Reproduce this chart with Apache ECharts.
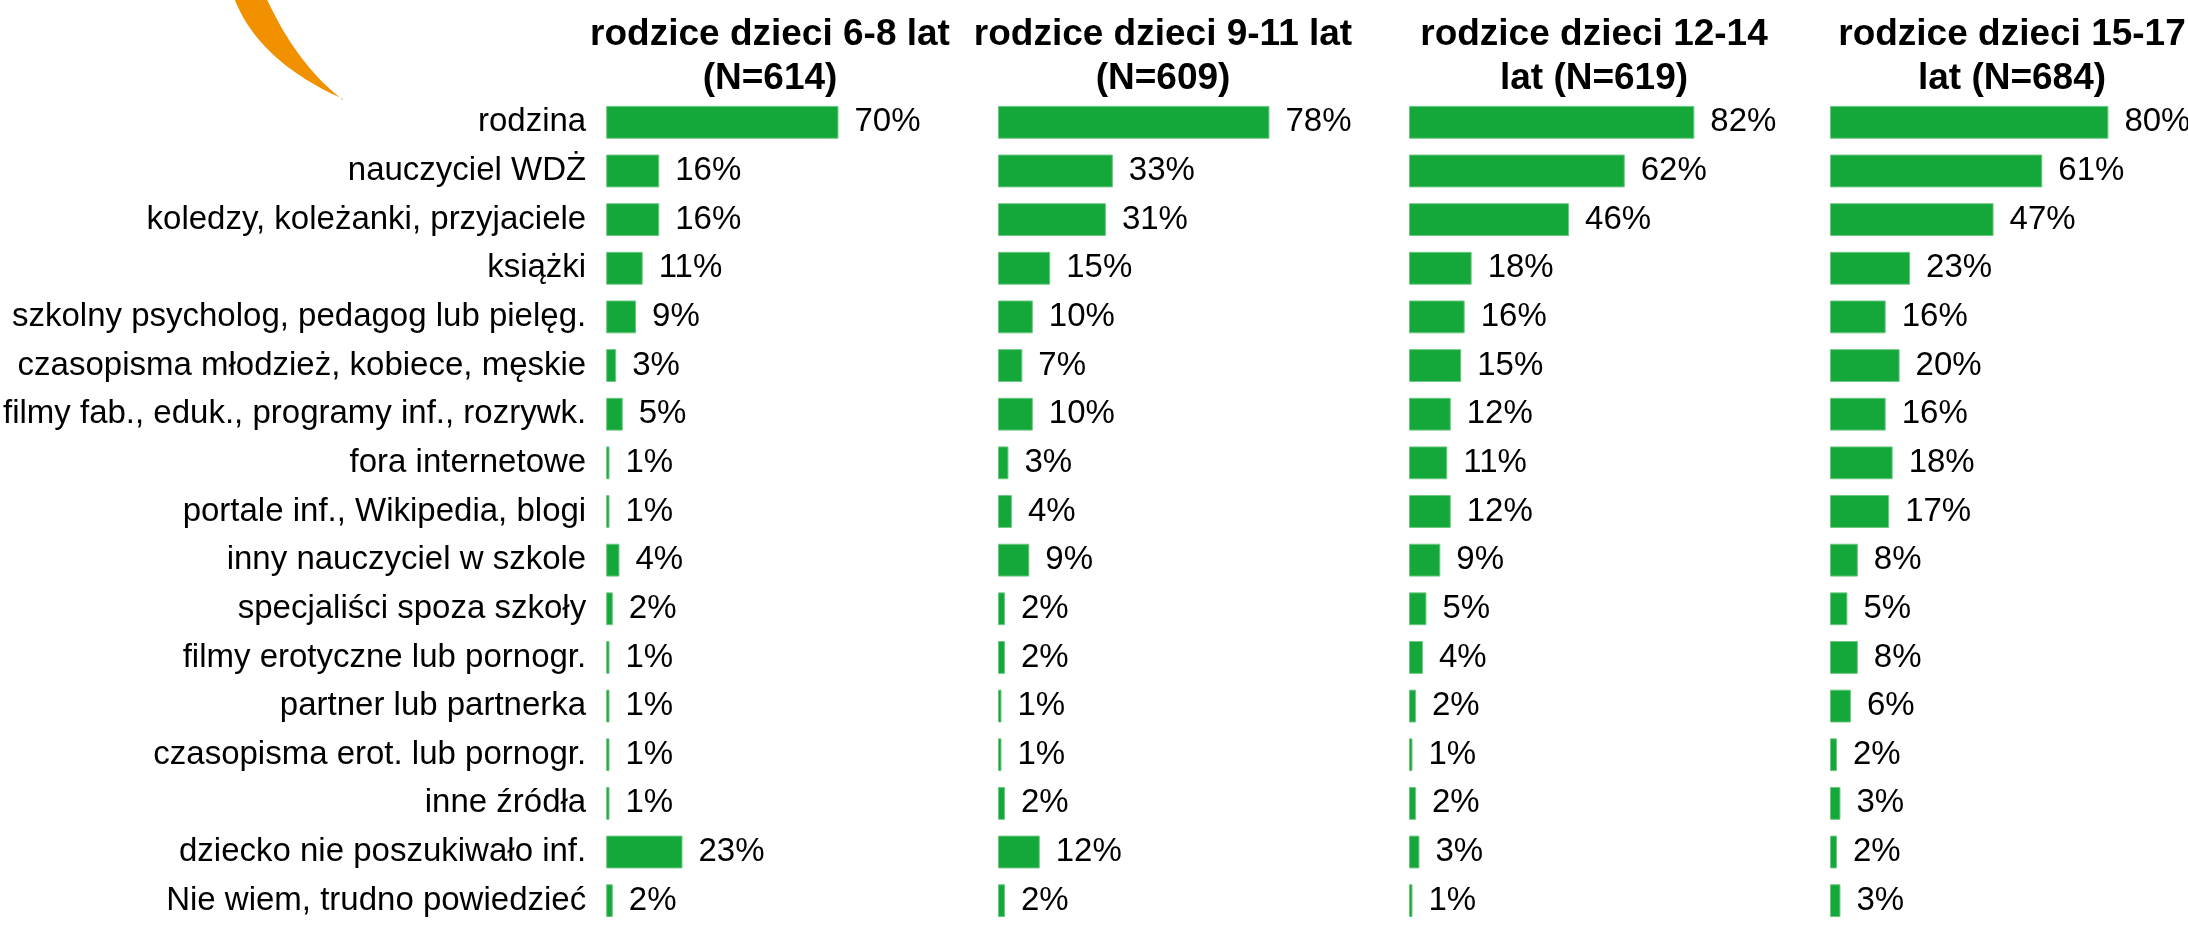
<!DOCTYPE html>
<html>
<head>
<meta charset="utf-8">
<script src="https://cdn.jsdelivr.net/npm/echarts@6/dist/echarts.min.js"></script>
<style>
html,body{margin:0;padding:0;background:#fff;}
#chart{width:2188px;height:925px;}
</style>
</head>
<body>
<div id="chart"></div>
<script>
const categories = [
  "rodzina",
  "nauczyciel WDŻ",
  "koledzy, koleżanki, przyjaciele",
  "książki",
  "szkolny psycholog, pedagog lub pielęg.",
  "czasopisma młodzież, kobiece, męskie",
  "filmy fab., eduk., programy inf., rozrywk.",
  "fora internetowe",
  "portale inf., Wikipedia, blogi",
  "inny nauczyciel w szkole",
  "specjaliści spoza szkoły",
  "filmy erotyczne lub pornogr.",
  "partner lub partnerka",
  "czasopisma erot. lub pornogr.",
  "inne źródła",
  "dziecko nie poszukiwało inf.",
  "Nie wiem, trudno powiedzieć"
];
const panelTitles = [
  "rodzice dzieci 6-8 lat\n(N=614)",
  "rodzice dzieci 9-11 lat\n(N=609)",
  "rodzice dzieci 12-14\nlat (N=619)",
  "rodzice dzieci 15-17\nlat (N=684)"
];
const values6_8   = [70,16,16,11,9,3,5,1,1,4,2,1,1,1,1,23,2];
const values9_11  = [78,33,31,15,10,7,10,3,4,9,2,2,1,1,2,12,2];
const values12_14 = [82,62,46,18,16,15,12,11,12,9,5,4,2,1,2,3,1];
const values15_17 = [80,61,47,23,16,20,16,18,17,8,5,8,6,2,3,2,3];

const seriesValues = [values6_8, values9_11, values12_14, values15_17];
const gridLefts = [590, 998, 1409, 1830];
const titleCenters = [765, 1158, 1589, 2007];
const GREEN = '#14A73A';
const FONT = "'Liberation Sans', Arial, sans-serif";

// decorative orange crescent (logo fragment)
function quad(p0, c, p2, n) {
  const pts = [];
  for (let k = 0; k <= n; k++) {
    const t = k / n, u = 1 - t;
    pts.push([u*u*p0[0] + 2*u*t*c[0] + t*t*p2[0], u*u*p0[1] + 2*u*t*c[1] + t*t*p2[1]]);
  }
  return pts;
}
const crescent = quad([233,-5],[256,60],[343,99],30).concat(quad([343,100],[296,64],[265,-5],30));

const chart = echarts.init(document.getElementById('chart'), null, {renderer: 'canvas'});

const grids = [], xAxes = [], yAxes = [], series = [], titles = [];
seriesValues.forEach((vals, i) => {
  grids.push({left: gridLefts[i], top: 98, width: 348, height: 831, containLabel: false});
  xAxes.push({type: 'value', gridIndex: i, min: 0, max: 100, show: false});
  yAxes.push({
    type: 'category', gridIndex: i, data: categories, inverse: true,
    axisLine: {show: false}, axisTick: {show: false}, splitLine: {show: false},
    axisLabel: {show: i === 0, color: '#000', fontSize: 33, fontFamily: FONT, margin: 20}
  });
  series.push({
    type: 'bar', xAxisIndex: i, yAxisIndex: i, data: vals,
    barCategoryGap: '32.5%',
    itemStyle: {color: GREEN, borderColor: '#6CC780', borderWidth: 1},
    label: {show: true, position: 'right', distance: 16, formatter: '{c}%',
            color: '#000', fontSize: 33, fontFamily: FONT},
    silent: true, animation: false
  });
  titles.push({
    text: panelTitles[i], left: titleCenters[i], top: 8, textAlign: 'center',
    textStyle: {fontSize: 37, fontWeight: 'bold', color: '#000', fontFamily: FONT, lineHeight: 44}
  });
});

chart.setOption({
  backgroundColor: '#fff',
  animation: false,
  title: titles,
  grid: grids,
  xAxis: xAxes,
  yAxis: yAxes,
  series: series,
  graphic: [{
    type: 'polygon', silent: true,
    shape: {points: crescent},
    style: {fill: '#F29100'}
  }]
});
</script>
</body>
</html>
